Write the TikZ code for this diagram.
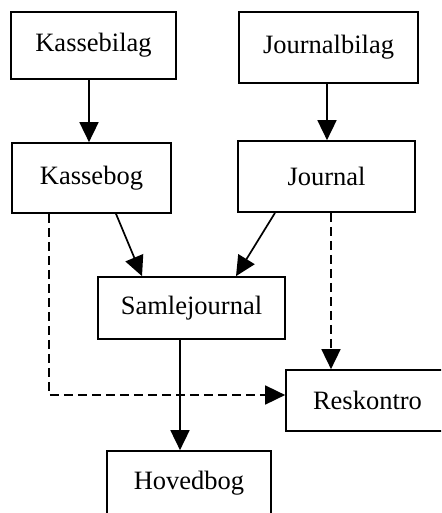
\documentclass[tikz,border=0pt]{standalone}
\usepackage{fontspec}
\setmainfont{Liberation Serif}
\usetikzlibrary{arrows.meta}
\begin{document}
\begin{tikzpicture}[x=1pt,y=-1pt,
  box/.style={draw,line width=1.7pt,rectangle,inner sep=0pt,
    font=\fontsize{26.5}{30}\selectfont},
  flow/.style={line width=1.7pt,-{Triangle[width=19pt,length=20pt]}},
  link/.style={flow,dash pattern=on 9pt off 5pt}]
\clip (0,0) rectangle (441,513);
\useasboundingbox (0,0) rectangle (441,513);

\node[box,minimum width=165pt,minimum height=67pt] (kbil) at (93.5,45.5) {Kassebilag};
\node[box,minimum width=179pt,minimum height=71pt] (jbil) at (328.5,47.5) {Journalbilag};
\node[box,minimum width=159pt,minimum height=70pt] (kbog) at (91.5,178) {Kassebog};
\node[box,minimum width=177pt,minimum height=71pt] (jour) at (326.5,176.5) {Journal};
\node[box,minimum width=187pt,minimum height=62pt] (samle) at (191.5,308) {Samlejournal};
\node[box,minimum width=163pt,minimum height=61pt] (resk) at (367.5,400.5) {Reskontro};
\node[box,minimum width=164pt,minimum height=64pt] (hoved) at (189,483) {Hovedbog};

\draw[flow] ([xshift=-4.5pt]kbil.south) -- ([xshift=-2.5pt]kbog.north);
\draw[flow] ([xshift=-1.5pt]jbil.south) -- ([xshift=0.5pt]jour.north);
\draw[flow] ([xshift=24.5pt]kbog.south) -- ([xshift=-49.5pt]samle.north);
\draw[flow] ([xshift=-51.5pt]jour.south) -- ([xshift=44.5pt]samle.north);
\draw[flow] ([xshift=-11.5pt]samle.south) -- ([xshift=-9pt]hoved.north);
\draw[link] ([xshift=-42.5pt]kbog.south) |- ([yshift=5.5pt]resk.west);
\draw[link] ([xshift=4.5pt]jour.south) -- ([xshift=-36.5pt]resk.north);
\end{tikzpicture}
\end{document}
